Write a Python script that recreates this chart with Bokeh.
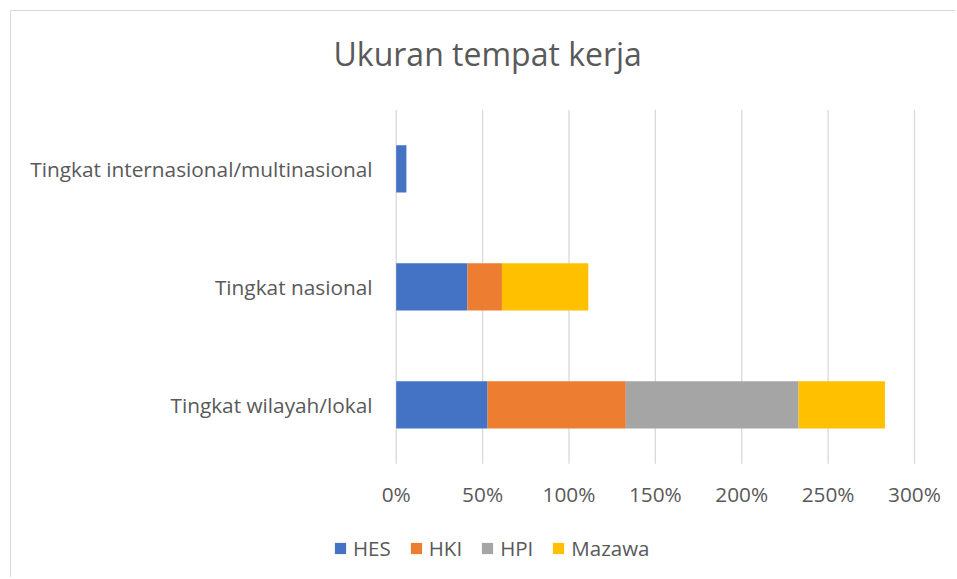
from bokeh.plotting import figure
from bokeh.models import ColumnDataSource, Range1d, FixedTicker, NumeralTickFormatter, InlineStyleSheet
from bokeh.embed import file_html
from bokeh.resources import INLINE

categories = ["Tingkat wilayah/lokal", "Tingkat nasional", "Tingkat internasional/multinasional"]
series = ["HES", "HKI", "HPI", "Mazawa"]
HES = [0.529, 0.412, 0.059]
HKI = [0.80, 0.20, 0.0]
HPI = [1.00, 0.0, 0.0]
Mazawa = [0.50, 0.50, 0.0]
x_ticks = [0, 0.5, 1.0, 1.5, 2.0, 2.5, 3.0]
colors = ["#4472C4", "#ED7D31", "#A5A5A5", "#FFC000"]

FONT = "Open Sans"
TXT = "#595959"

# layout (screen pixels)
FRAME_LEFT, FRAME_RIGHT = 313, 953
FRAME_TOP, FRAME_BOTTOM = 107, 577
ZERO_X, MAX_X = 395.7, 914.0
PLOT_TOP, PLOT_BOTTOM = 109.3, 463.3
px_x = (MAX_X - ZERO_X) / x_ticks[-1]
n = len(categories)
px_y = (PLOT_BOTTOM - PLOT_TOP) / n
x_start = -(ZERO_X - FRAME_LEFT) / px_x
x_end = x_ticks[-1] + (FRAME_RIGHT - MAX_X) / px_x
y_lo, y_hi = -0.5, n - 0.5
y_start = y_lo - (FRAME_BOTTOM - PLOT_BOTTOM) / px_y
y_end = y_hi + (PLOT_TOP - FRAME_TOP) / px_y

pos = list(range(n))
source = ColumnDataSource(dict(pos=pos, cat=categories, HES=HES, HKI=HKI, HPI=HPI, Mazawa=Mazawa))

p = figure(y_range=Range1d(y_start, y_end), x_range=Range1d(x_start, x_end),
           frame_width=FRAME_RIGHT - FRAME_LEFT, frame_height=FRAME_BOTTOM - FRAME_TOP,
           output_backend="svg", toolbar_location=None,
           min_border_left=FRAME_LEFT, min_border_right=2,
           min_border_top=FRAME_TOP, min_border_bottom=0)
frame_css = InlineStyleSheet(css="""
:host { position: relative; }
:host::after { content: ""; position: absolute; left: 10px; top: 10px; right: 0; bottom: 0;
  border-left: 1px solid #d9d9d9; border-top: 1px solid #d9d9d9; pointer-events: none; z-index: 10; }
""")
p.stylesheets = [frame_css]

p.outline_line_color = None
p.background_fill_color = "white"
p.border_fill_color = "white"
p.xgrid.visible = False
p.ygrid.visible = False

# vertical gridlines over the category band only
p.segment(x0=x_ticks, x1=x_ticks, y0=[y_lo] * len(x_ticks), y1=[y_hi] * len(x_ticks),
          line_color="#d9d9d9", line_width=1.3)

p.hbar_stack(series, y="pos", height=0.4, color=colors, line_color=None,
             source=source, legend_label=series)

xa = p.xaxis[0]
xa.ticker = FixedTicker(ticks=x_ticks)
xa.formatter = NumeralTickFormatter(format="0%")
xa.fixed_location = y_lo
ya = p.yaxis[0]
ya.ticker = FixedTicker(ticks=pos)
ya.major_label_overrides = {i: c for i, c in zip(pos, categories)}
for ax in (xa, ya):
    ax.axis_line_color = None
    ax.major_tick_line_color = None
    ax.minor_tick_line_color = None
    ax.major_tick_out = 0
    ax.major_tick_in = 0
    ax.major_label_text_font = FONT
    ax.major_label_text_font_size = "20.8px"
    ax.major_label_text_color = TXT
xa.major_label_standoff = 16
ya.major_label_standoff = FRAME_LEFT - 372

p.title.text = "Ukuran tempat kerja"
p.title.text_font = FONT
p.title.text_font_size = "32px"
p.title.text_font_style = "normal"
p.title.text_color = TXT
p.title.align = "left"
p.title.vertical_align = "top"
p.title.offset = 20
p.title.standoff = 61

lg = p.legend[0]
lg.orientation = "horizontal"
lg.location = (333 - FRAME_LEFT, 15)
lg.border_line_color = None
lg.background_fill_alpha = 0
lg.padding = 0
lg.margin = 0
lg.spacing = 18
lg.glyph_width = 14
lg.glyph_height = 14
lg.label_standoff = 6
lg.label_text_font = FONT
lg.label_text_font_size = "20.5px"
lg.label_text_color = TXT

open("out.html", "w").write(file_html(p, INLINE))
